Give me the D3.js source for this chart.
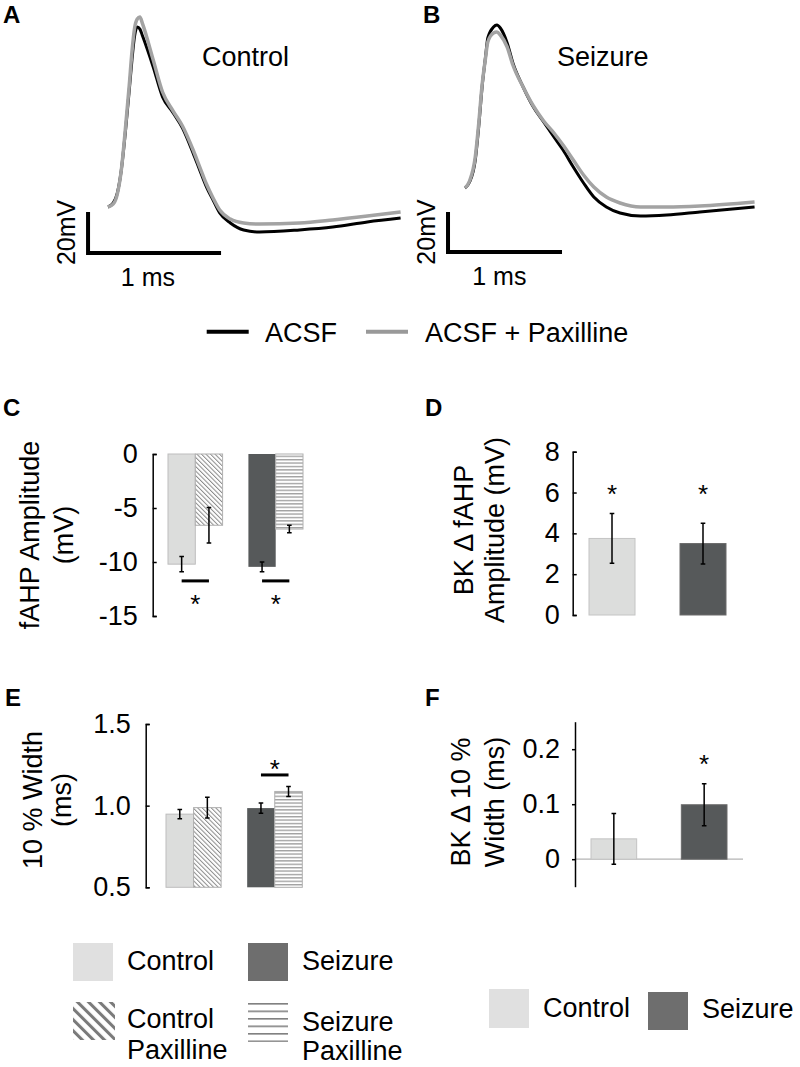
<!DOCTYPE html>
<html><head><meta charset="utf-8">
<script src="https://cdn.jsdelivr.net/npm/d3@7"></script>
<style>
html,body{margin:0;padding:0;background:#fff;}
svg{display:block;font-family:Arial,"Liberation Sans",Helvetica,sans-serif;}
</style></head><body>
<svg id="fig" width="800" height="1067"></svg>
<script>
// ---------------- DATA ----------------
// Panel A (Control) action potential traces: time (ms) and voltage (mV, relative to trace start)
const timeA = [0, 0.04, 0.07, 0.10, 0.13, 0.16, 0.18, 0.20, 0.22, 0.24, 0.26, 0.34, 0.41, 0.49, 0.56, 0.64, 0.69, 0.74, 0.79, 0.84, 0.92, 1.02, 1.14, 1.44, 1.69, 1.95, 2.20];
const acsfA  = [0, 2.0, 6.8, 18.0, 36.1, 57.1, 71.7, 83.4, 87.8, 86.8, 83.4, 68.3, 53.7, 45.9, 38.5, 26.3, 18.0, 9.8, 3.4, -2.9, -7.8, -11.2, -12.2, -11.2, -9.8, -7.3, -5.4];
const paxA   = [0, 1.5, 6.3, 18.0, 37.6, 59.5, 75.6, 87.3, 91.7, 92.7, 89.3, 71.7, 56.1, 46.8, 39.5, 27.8, 19.5, 11.2, 4.4, -1.5, -5.9, -7.8, -8.3, -7.8, -6.3, -4.4, -2.4];
// Panel B (Seizure)
const timeB = [0, 0.04, 0.09, 0.12, 0.15, 0.18, 0.20, 0.25, 0.28, 0.31, 0.37, 0.42, 0.51, 0.60, 0.69, 0.78, 0.86, 0.95, 1.04, 1.13, 1.24, 1.36, 1.54, 1.77, 2.06, 2.54];
const acsfB  = [0, 3, 14, 30.5, 50.5, 65.5, 75, 80.5, 81.5, 80, 72.5, 62.5, 50.5, 40.5, 33, 25.5, 19, 10.5, 2.5, -4.5, -9.5, -12.5, -14, -13.5, -12, -9.5];
const paxB   = [0, 3.5, 15.5, 32, 51.5, 65, 73, 77.5, 78, 76.5, 70.5, 61.5, 50.5, 41, 33.5, 27.5, 21.5, 14, 6.5, 0.5, -4.5, -7.5, -9.5, -9.5, -9, -7];
const traceLegend = ["ACSF", "ACSF + Paxilline"];

const groups = ["Control", "Seizure"];
const conditions = ["ACSF", "Paxilline"];
// Panel C: fAHP amplitude (mV)
const fahpControl = [-10.2, -6.6];
const fahpControlErr = [0.7, 1.65];
const fahpSeizure = [-10.45, -6.95];
const fahpSeizureErr = [0.45, 0.35];
// Panel D: BK delta fAHP amplitude (mV)
const bkFahp = [3.75, 3.5];
const bkFahpErr = [1.22, 1.0];
// Panel E: 10% width (ms)
const widthControl = [0.948, 0.988];
const widthControlErr = [0.028, 0.064];
const widthSeizure = [0.985, 1.087];
const widthSeizureErr = [0.031, 0.031];
// Panel F: BK delta 10% width (ms)
const bkWidth = [0.037, 0.099];
const bkWidthErr = [0.046, 0.038];

const ticksC = [0, -5, -10, -15];
const ticksD = [0, 2, 4, 6, 8];
const ticksE = [0.5, 1.0, 1.5];
const ticksF = [0, 0.1, 0.2];

// ---------------- STYLE ----------------
const FS = 27;
const cLight = "#dcdddc", cDark = "#56595a";
const cLegLight = "#e0e0e0", cLegDark = "#6e6e6e";

const svg = d3.select("#fig");
const defs = svg.append("defs");
// fine diagonal hatch (bars)
const pd = defs.append("pattern").attr("id","diag").attr("patternUnits","userSpaceOnUse")
  .attr("width",3.2).attr("height",3.2).attr("patternTransform","rotate(-45)");
pd.append("rect").attr("width",3.2).attr("height",3.2).attr("fill","#fff");
pd.append("line").attr("x1",0.5).attr("y1",0).attr("x2",0.5).attr("y2",3.2).attr("stroke","#8a8a8a").attr("stroke-width",1);
// fine horizontal stripes (bars)
const ph = defs.append("pattern").attr("id","horiz").attr("patternUnits","userSpaceOnUse")
  .attr("width",4).attr("height",3.4);
ph.append("rect").attr("width",4).attr("height",3.4).attr("fill","#fff");
ph.append("line").attr("x1",0).attr("y1",0.7).attr("x2",4).attr("y2",0.7).attr("stroke","#9a9a9a").attr("stroke-width",1.3);
// legend coarse diag
const pld = defs.append("pattern").attr("id","legdiag").attr("patternUnits","userSpaceOnUse")
  .attr("width",7.8).attr("height",7.8).attr("patternTransform","rotate(-45)");
pld.append("rect").attr("width",7.8).attr("height",7.8).attr("fill","#fff");
pld.append("rect").attr("x",0).attr("width",3).attr("height",7.8).attr("fill","#7a7a7a");
// legend coarse horizontal
const plh = defs.append("pattern").attr("id","leghoriz").attr("patternUnits","userSpaceOnUse")
  .attr("width",10).attr("height",7.5).attr("y",1003);
plh.append("rect").attr("width",10).attr("height",7.5).attr("fill","#fff");
plh.append("rect").attr("y",0).attr("width",10).attr("height",1.6).attr("fill","#808080");

function panelLabel(t, x, y){
  svg.append("text").attr("x",x).attr("y",y).attr("font-size",24).attr("font-weight","bold").text(t);
}

// ---------------- PANELS A/B (traces) ----------------
function tracePanel(opt){
  const g = svg.append("g");
  const x = d3.scaleLinear().domain([0,1]).range([opt.x0, opt.x0 + opt.pxPerMs]);
  const y = d3.scaleLinear().domain([0,20]).range([opt.y0, opt.y0 - opt.pxPer20]);
  const line = d3.line().x((d,i)=>x(opt.time[i])).y(d=>y(d)).curve(d3.curveMonotoneX);
  g.append("path").attr("d", line(opt.acsf)).attr("fill","none").attr("stroke","#000").attr("stroke-width",3).attr("stroke-linejoin","round");
  g.append("path").attr("d", line(opt.pax)).attr("fill","none").attr("stroke","#a3a3a3").attr("stroke-width",3.5).attr("stroke-linejoin","round");
  // scale bar (1 ms, 20 mV)
  const sb = opt.bar;
  g.append("path").attr("d", `M${x(sb[0])},${y(sb[1]+20)}V${y(sb[1])}H${x(sb[0]+1)}`)
    .attr("fill","none").attr("stroke","#000").attr("stroke-width",4);
  g.append("text").attr("transform",`translate(${x(sb[0])-13},${y(sb[1]+10)}) rotate(-90)`)
    .attr("text-anchor","middle").attr("font-size",25).text("20mV");
  g.append("text").attr("x",x(sb[0]+0.45)).attr("y",y(sb[1])+33).attr("text-anchor","middle").attr("font-size",25).text("1 ms");
  g.append("text").attr("x",opt.titleX).attr("y",66).attr("font-size",FS).text(opt.title);
}
tracePanel({time:timeA, acsf:acsfA, pax:paxA, x0:108, pxPerMs:133, y0:207, pxPer20:41, bar:[-0.15,-22.4], title:"Control", titleX:202});
tracePanel({time:timeB, acsf:acsfB, pax:paxB, x0:465, pxPerMs:114, y0:188, pxPer20:40, bar:[-0.149,-32], title:"Seizure", titleX:557});
panelLabel("A", 3, 23);
panelLabel("B", 423, 23);

// trace legend
const tl = svg.append("g");
[[206.7,"#000",265],[366,"#999",425]].forEach((s,i)=>{
  tl.append("line").attr("x1",s[0]).attr("x2",s[0]+42).attr("y1",331.7).attr("y2",331.7).attr("stroke",s[1]).attr("stroke-width",4);
  tl.append("text").attr("x",s[2]).attr("y",341.7).attr("font-size",FS).text(traceLegend[i]);
});

// ---------------- helpers for bar panels ----------------
function yAxis(g, y, ax, ticks, fmt, opts){
  const a = d3.axisLeft(y).tickValues(ticks).tickFormat(fmt)
    .tickSizeInner(opts.inner).tickSizeOuter(opts.outer).tickPadding(opts.pad);
  const G = g.append("g").attr("transform",`translate(${ax},0)`).call(a);
  G.select(".domain").attr("stroke","#000").attr("stroke-width",1.5);
  G.selectAll(".tick line").attr("stroke","#000").attr("stroke-width",1.5);
  G.selectAll(".tick text").attr("font-size",FS).attr("font-family","Arial, 'Liberation Sans', sans-serif").attr("fill","#000");
  return G;
}
function yTitle(g, lines, xs, cy){
  lines.forEach((t,i)=>{
    g.append("text").attr("transform",`translate(${xs[i]},${cy}) rotate(-90)`)
      .attr("text-anchor","middle").attr("font-size",FS).text(t);
  });
}
function errBar(g, cx, y, m, e){
  const cap = 2.3;
  g.append("path").attr("d",`M${cx},${y(m+e)}V${y(m-e)}M${cx-cap},${y(m+e)}H${cx+cap}M${cx-cap},${y(m-e)}H${cx+cap}`)
    .attr("fill","none").attr("stroke","#000").attr("stroke-width",1.5);
}
function star(g, cx, cyPx){
  g.append("text").attr("x",cx).attr("y",cyPx+15).attr("text-anchor","middle").attr("font-size",26).text("*");
}

// grouped panel (C, E)
function groupedPanel(opt){
  const g = svg.append("g");
  const y = d3.scaleLinear().domain(opt.domain).range(opt.yrange);
  const xg = d3.scaleBand().domain(groups).range(opt.xrange).paddingInner(0.321).paddingOuter(0);
  const xc = d3.scaleBand().domain(conditions).range([0, xg.bandwidth()]);
  const fills = {Control:[cLight,"url(#diag)"], Seizure:[cDark,"url(#horiz)"]};
  const strokes = {Control:["#bdbdbd","#b0b0b0"], Seizure:["none","#b0b0b0"]};
  const base = opt.base;
  groups.forEach((gr,gi)=>{
    conditions.forEach((c,ci)=>{
      const v = opt.means[gi][ci];
      const x0 = xg(gr)+xc(c);
      g.append("rect").attr("x",x0).attr("width",xc.bandwidth())
        .attr("y",Math.min(y(v),y(base))).attr("height",Math.abs(y(v)-y(base)))
        .attr("fill",fills[gr][ci]).attr("stroke",strokes[gr][ci]).attr("stroke-width",1);
    });
  });
  groups.forEach((gr,gi)=>{
    conditions.forEach((c,ci)=>{
      errBar(g, xg(gr)+xc(c)+xc.bandwidth()/2, y, opt.means[gi][ci], opt.errs[gi][ci]);
    });
  });
  // significance
  opt.sig.forEach(s=>{
    const gr = groups[s.group];
    const xa = xg(gr)+xc(conditions[0])+xc.bandwidth()/2;
    const xb = xg(gr)+xc(conditions[1])+xc.bandwidth()/2;
    g.append("line").attr("x1",xa).attr("x2",xb).attr("y1",y(s.line)).attr("y2",y(s.line)).attr("stroke","#000").attr("stroke-width",3);
    star(g,(xa+xb)/2,y(s.star));
  });
  yAxis(g, y, opt.ax, opt.ticks, opt.fmt, {inner:-4, outer:-4, pad:opt.pad});
  yTitle(g, opt.title, opt.titleX, opt.titleY);
}
groupedPanel({domain:[0,-15], yrange:[454,616], xrange:[168,303], base:0,
  means:[fahpControl,fahpSeizure], errs:[fahpControlErr,fahpSeizureErr],
  sig:[{group:0,line:-11.75,star:-13.3},{group:1,line:-11.75,star:-13.3}],
  ax:152.7, ticks:ticksC, fmt:d=>String(d), pad:15,
  title:["fAHP Amplitude","(mV)"], titleX:[38.5,73], titleY:535});
panelLabel("C", 3, 416);

groupedPanel({domain:[0.5,1.5], yrange:[887.3,724], xrange:[166,302.3], base:0.5,
  means:[widthControl,widthSeizure], errs:[widthControlErr,widthSeizureErr],
  sig:[{group:1,line:1.188,star:1.26}],
  ax:145.7, ticks:ticksE, fmt:d3.format(".1f"), pad:15,
  title:["10 % Width","(ms)"], titleX:[41.5,71], titleY:800});
panelLabel("E", 5, 706);

// simple panels (D, F)
function simplePanel(opt){
  const g = svg.append("g");
  const y = d3.scaleLinear().domain(opt.domain).range(opt.yrange);
  const x = d3.scaleBand().domain(groups).range(opt.xrange).paddingInner(0.4945).paddingOuter(0);
  const fills = [cLight, cDark];
  const strokes = ["#c4c4c4","#6a6a6a"];
  if (opt.zeroLine){
    g.append("line").attr("x1",opt.ax).attr("x2",opt.zeroLine).attr("y1",y(0)).attr("y2",y(0)).attr("stroke","#b4b4b4").attr("stroke-width",1.3);
  }
  groups.forEach((gr,i)=>{
    const v = opt.means[i];
    g.append("rect").attr("x",x(gr)).attr("width",x.bandwidth())
      .attr("y",Math.min(y(v),y(0))).attr("height",Math.abs(y(v)-y(0)))
      .attr("fill",fills[i]).attr("stroke",strokes[i]).attr("stroke-width",1);
  });
  groups.forEach((gr,i)=>{
    errBar(g, x(gr)+x.bandwidth()/2, y, opt.means[i], opt.errs[i]);
  });
  opt.stars.forEach(s=>{ star(g, x(groups[s.i])+x.bandwidth()/2, y(s.v)); });
  yAxis(g, y, opt.ax, opt.ticks, opt.fmt, opt.axisOpts);
  yTitle(g, opt.title, opt.titleX, opt.titleY);
}
simplePanel({domain:[0,8], yrange:[615,451.7], xrange:[589,726], means:bkFahp, errs:bkFahpErr,
  stars:[{i:0,v:6.2},{i:1,v:6.2}], ax:572.7, ticks:ticksD, fmt:d=>String(d),
  axisOpts:{inner:-4,outer:-4,pad:13},
  title:["BK \u0394 fAHP","Amplitude (mV)"], titleX:[472.5,504], titleY:530});
panelLabel("D", 425, 416);

simplePanel({domain:[-0.05,0.25], yrange:[886.7,721.7], xrange:[591,727], means:bkWidth, errs:bkWidthErr,
  stars:[{i:1,v:0.1835}], ax:575, ticks:ticksF, fmt:d=>d===0?"0":d3.format(".1f")(d),
  axisOpts:{inner:3,outer:0,pad:12}, zeroLine:743,
  title:["BK \u0394 10 %","Width (ms)"], titleX:[469.5,504], titleY:802});
panelLabel("F", 425, 706);

// ---------------- LEGENDS ----------------
const lg = svg.append("g");
const legItems = [
  {x:73, y:943, w:40, h:38, fill:cLegLight, lines:["Control"], tx:127, ty:[970]},
  {x:248, y:943, w:40, h:38, fill:cLegDark, lines:["Seizure"], tx:302, ty:[970]},
  {x:73, y:1002, w:42, h:38, fill:"url(#legdiag)", lines:["Control","Paxilline"], tx:127, ty:[1028,1059]},
  {x:248, y:1003, w:40, h:39, fill:"url(#leghoriz)", lines:["Seizure","Paxilline"], tx:302, ty:[1031,1060]}, 
  {x:489, y:989, w:40, h:39, fill:cLegLight, lines:["Control"], tx:543, ty:[1017]},
  {x:648, y:992, w:40, h:38, fill:cLegDark, lines:["Seizure"], tx:702, ty:[1018]}
];
legItems.forEach(it=>{
  lg.append("rect").attr("x",it.x).attr("y",it.y).attr("width",it.w).attr("height",it.h).attr("fill",it.fill);
  it.lines.forEach((t,i)=>lg.append("text").attr("x",it.tx).attr("y",it.ty[i]).attr("font-size",FS).text(t));
});
</script>
</body></html>
